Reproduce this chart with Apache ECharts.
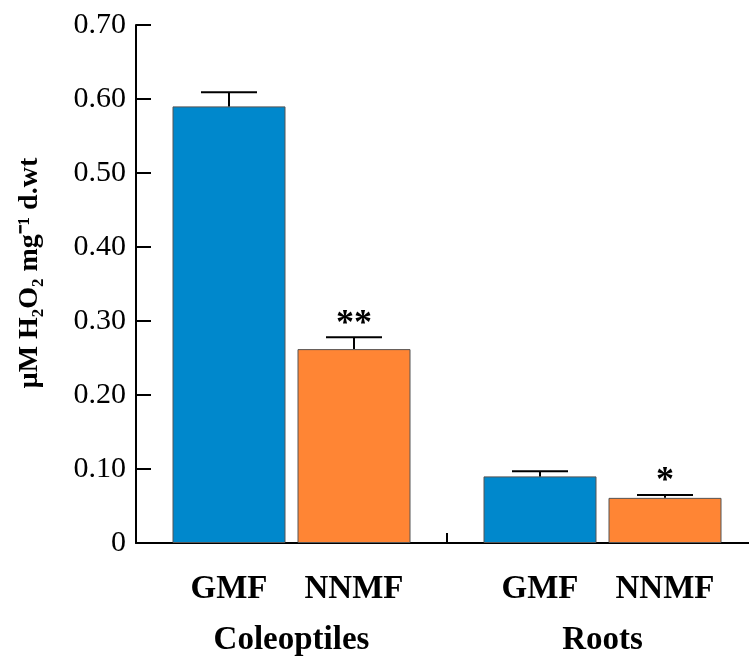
<!DOCTYPE html>
<html>
<head>
<meta charset="utf-8">
<script src="https://cdn.jsdelivr.net/npm/echarts@6/dist/echarts.min.js"></script>
<style>html,body{margin:0;padding:0;background:#fff;}#c{width:749px;height:657px;}</style>
</head>
<body>
<div id="c"></div>
<script>
var groups = ['Coleoptiles', 'Roots'];
var seriesNames = ['GMF', 'NNMF'];
var gmfValues = [0.59, 0.09];
var nnmfValues = [0.262, 0.061];
var gmfErrors = [0.019, 0.007];
var nnmfErrors = [0.016, 0.004];
var gmfSig = ['', ''];
var nnmfSig = ['**', '*'];
var yTicks = [0, 0.1, 0.2, 0.3, 0.4, 0.5, 0.6, 0.7];

var FONT = '"Liberation Serif", "Times New Roman", serif';
var BAR_W = 113, BAR_GAP = 12;

function errSeries(values, errors, sig, sideSign) {
  var data = values.map(function (v, i) { return [i, v, errors[i], sig[i]]; });
  return {
    type: 'custom',
    silent: true,
    z: 5,
    data: data,
    renderItem: function (params, api) {
      var p = api.coord([api.value(0), api.value(1)]);
      var t = api.coord([api.value(0), api.value(1) + api.value(2)]);
      var x = p[0] + sideSign * (BAR_W + BAR_GAP) / 2;
      var capHalf = 28;
      var st = { stroke: '#000', lineWidth: 2 };
      var children = [
        { type: 'line', shape: { x1: x, y1: p[1], x2: x, y2: t[1] }, style: st },
        { type: 'line', shape: { x1: x - capHalf, y1: t[1], x2: x + capHalf, y2: t[1] }, style: st }
      ];
      var s = data[params.dataIndex][3];
      if (s) {
        children.push({ type: 'text', style: { text: s, x: x, y: t[1] + 5, align: 'center', verticalAlign: 'bottom', font: 'bold 36px ' + FONT, fill: '#000' } });
      }
      return { type: 'group', children: children };
    }
  };
}

var chart = echarts.init(document.getElementById('c'));
chart.setOption({
  animation: false,
  backgroundColor: '#fff',
  grid: { left: 136, top: 25, height: 518, width: 622, containLabel: false, outerBoundsMode: 'none' },
  xAxis: {
    type: 'category',
    data: groups,
    axisLine: { lineStyle: { color: '#000', width: 2 } },
    axisTick: { show: true, inside: true, length: 10, lineStyle: { color: '#000', width: 2 } },
    axisLabel: { margin: 81, color: '#000', fontFamily: FONT, fontWeight: 'bold', fontSize: 33 }
  },
  yAxis: {
    type: 'value',
    min: 0, max: 0.7, interval: 0.1,
    name: 'μM H₂O₂ mg⁻¹ d.wt',
    nameLocation: 'middle',
    nameGap: 92,
    nameTextStyle: { color: '#000', fontFamily: FONT, fontWeight: 'bold', fontSize: 28, padding: [0, 0, 0, 22] },
    splitLine: { show: false },
    axisLine: { show: true, lineStyle: { color: '#000', width: 2 } },
    axisTick: { show: true, inside: true, length: 15, lineStyle: { color: '#000', width: 2 } },
    axisLabel: {
      margin: 10, color: '#000', fontFamily: FONT, fontSize: 30,
      formatter: function (v) {
        for (var i = 0; i < yTicks.length; i++) {
          if (Math.abs(yTicks[i] - v) < 1e-9) return yTicks[i] === 0 ? '0' : yTicks[i].toFixed(2);
        }
        return '';
      }
    }
  },
  series: [
    {
      name: seriesNames[0], type: 'bar', data: gmfValues, barWidth: BAR_W, barGap: (BAR_GAP / BAR_W * 100) + '%',
      itemStyle: { color: '#0088CC', borderColor: '#555', borderWidth: 1 },
      label: { show: true, position: 'bottom', distance: 30, formatter: seriesNames[0], color: '#000', fontFamily: FONT, fontWeight: 'bold', fontSize: 33 }
    },
    {
      name: seriesNames[1], type: 'bar', data: nnmfValues, barWidth: BAR_W,
      itemStyle: { color: '#FF8534', borderColor: '#555', borderWidth: 1 },
      label: { show: true, position: 'bottom', distance: 30, formatter: seriesNames[1], color: '#000', fontFamily: FONT, fontWeight: 'bold', fontSize: 33 }
    },
    errSeries(gmfValues, gmfErrors, gmfSig, -1),
    errSeries(nnmfValues, nnmfErrors, nnmfSig, 1)
  ]
});
</script>
</body>
</html>
